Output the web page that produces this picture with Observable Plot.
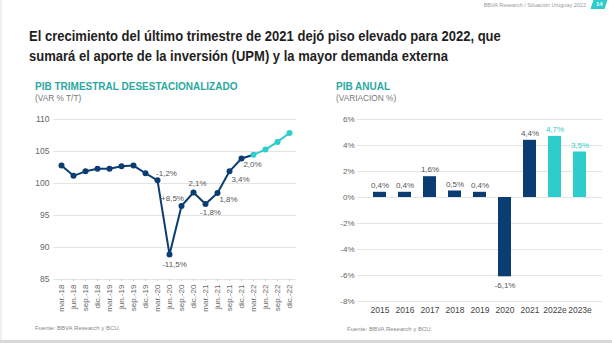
<!DOCTYPE html>
<html>
<head>
<meta charset="utf-8">
<script src="https://cdn.jsdelivr.net/npm/d3@7"></script>
<script src="https://cdn.jsdelivr.net/npm/@observablehq/plot@0.6"></script>
<style>
  html, body { margin: 0; padding: 0; background: #fff; }
  #slide { position: relative; width: 612px; height: 343px; overflow: hidden; background: #fff; font-family: "Liberation Sans", Arial, sans-serif; }
  .abs { position: absolute; white-space: nowrap; }
  #title { left: 29px; top: 26px; font-size: 15.5px; font-weight: bold; color: #1f1f1f; line-height: 20px; transform: scaleX(0.84); transform-origin: 0 0; }
  .sub1 { font-size: 10px; font-weight: bold; color: #2ba8a2; }
  .sub2 { font-size: 8.3px; color: #777; }
  .src { font-size: 6px; color: #888; }
  #hdr { right: 26px; top: 2px; font-size: 5.5px; color: #9a9a9a; }
  #pg { right: 6px; top: 0px; width: 14px; height: 9px; background: #2dcccd; transform: skewX(-18deg); color: #fff; font-size: 6px; font-weight: bold; text-align: center; line-height: 9px; }
  #bottomline { left: 0; top: 340px; width: 612px; height: 3px; background: #d9d9d9; }
  #leftline { left: 0; top: 0; width: 2px; height: 343px; background: #f0f0f0; }
</style>
</head>
<body>
<div id="slide">
  <div id="leftline" class="abs"></div>
  <div id="hdr" class="abs">BBVA Research / Situación Uruguay 2022</div>
  <div id="pg" class="abs"><span style="display:inline-block;transform:skewX(18deg)">14</span></div>
  <div id="title" class="abs">El crecimiento del último trimestre de 2021 dejó piso elevado para 2022, que<br>sumará el aporte de la inversión (UPM) y la mayor demanda externa</div>
  <div class="abs sub1" style="left:35px;top:81px">PIB TRIMESTRAL DESESTACIONALIZADO</div>
  <div class="abs sub2" style="left:35px;top:93px">(VAR % T/T)</div>
  <div class="abs sub1" style="left:336px;top:81px">PIB ANUAL</div>
  <div class="abs sub2" style="left:336px;top:93px">(VARIACION %)</div>
  <div id="left" class="abs" style="left:0;top:105px"></div>
  <div id="right" class="abs" style="left:310px;top:105px"></div>
  <div class="abs src" style="left:35px;top:325px">Fuente: BBVA Research y BCU.</div>
  <div class="abs src" style="left:347px;top:326px">Fuente: BBVA Research y BCU.</div>
  <div id="bottomline" class="abs"></div>
</div>
<script>
// ---- Data: quarterly seasonally adjusted GDP index ----
const quarters = ["mar.-18","jun.-18","sep.-18","dic.-18","mar.-19","jun.-19","sep.-19","dic.-19",
  "mar.-20","jun.-20","sep.-20","dic.-20","mar.-21","jun.-21","sep.-21","dic.-21",
  "mar.-22","jun.-22","sep.-22","dic.-22"];
const pibIndex = [102.8, 101.2, 101.9, 102.3, 102.3, 102.7, 102.8, 101.6,
  100.5, 88.9, 96.5, 98.6, 96.8, 98.5, 101.9, 103.9,
  104.5, 105.3, 106.5, 107.9];
const firstForecastQuarter = "mar.-22";
const qLabelQuarters = ["mar.-20","jun.-20","sep.-20","dic.-20","mar.-21","jun.-21","sep.-21","mar.-22"];
const qLabelTexts = ["-1,2%","-11,5%","+8,5%","2,1%","-1,8%","1,8%","3,4%","2,0%"];
const yTicksLeft = [85, 90, 95, 100, 105, 110];

// ---- Data: annual GDP growth ----
const years = ["2015","2016","2017","2018","2019","2020","2021","2022e","2023e"];
const growth = [0.4, 0.4, 1.6, 0.5, 0.4, -6.1, 4.4, 4.7, 3.5];
const growthLabels = ["0,4%","0,4%","1,6%","0,5%","0,4%","-6,1%","4,4%","4,7%","3,5%"];
const yTicksRight = [-8, -6, -4, -2, 0, 2, 4, 6];

const NAVY = "#0b3d72";
const CYAN = "#2dcccd";
const GRID = "#e4e4e4";
const TXT = "#666";

// ---- Left chart ----
const fIdx = quarters.indexOf(firstForecastQuarter);
const qData = quarters.map((q, i) => ({q, v: pibIndex[i], i}));
const hist = qData.filter(d => d.i <= fIdx);
const fcst = qData.filter(d => d.i >= fIdx);
const qLabels = qLabelQuarters.map((q, k) => ({q, v: pibIndex[quarters.indexOf(q)], t: qLabelTexts[k]}));
const offs = {
  "mar.-20": [9, -7], "jun.-20": [5, 10], "sep.-20": [-9, -7], "dic.-20": [4, -9],
  "mar.-21": [5, 8], "jun.-21": [11, 6], "sep.-21": [11, 8], "mar.-22": [-1, 10]
};

const left = Plot.plot({
  width: 305, height: 215,
  marginLeft: 53, marginRight: 9, marginTop: 14, marginBottom: 41,
  style: {fontFamily: "'Liberation Sans', Arial, sans-serif", background: "transparent"},
  x: {type: "point", domain: quarters, padding: 0.5, label: null},
  y: {domain: [85, 110], label: null},
  marks: [
    Plot.ruleY(yTicksLeft, {stroke: GRID, strokeWidth: 1}),
    Plot.axisY({ticks: yTicksLeft, tickSize: 0, tickPadding: 4, fontSize: 8.5, color: TXT, label: null}),
    Plot.axisX({tickRotate: -90, tickSize: 2, tickPadding: 3, fontSize: 8, color: TXT, stroke: "#ccc", label: null}),
    Plot.line(hist, {x: "q", y: "v", stroke: NAVY, strokeWidth: 2}),
    Plot.line(fcst, {x: "q", y: "v", stroke: CYAN, strokeWidth: 2}),
    Plot.dot(qData, {x: "q", y: "v", r: 3, fill: d => d.i >= fIdx ? CYAN : NAVY, stroke: "none"}),
    ...qLabels.map(d => Plot.text([d], {x: "q", y: "v", text: "t", dx: offs[d.q][0], dy: offs[d.q][1], fontSize: 8, fill: "#555"}))
  ]
});
document.getElementById("left").appendChild(left);

// ---- Right chart ----
const yData = years.map((y, i) => ({y, v: growth[i], t: growthLabels[i], est: y.endsWith("e")}));
const right = Plot.plot({
  width: 300, height: 215,
  marginLeft: 47, marginRight: 8, marginTop: 14, marginBottom: 19,
  style: {fontFamily: "'Liberation Sans', Arial, sans-serif", background: "transparent"},
  x: {type: "band", domain: years, padding: 0.5, label: null},
  y: {domain: [-8, 6], label: null},
  marks: [
    Plot.ruleY(yTicksRight, {stroke: GRID, strokeWidth: 1}),
    Plot.axisY({ticks: yTicksRight, tickFormat: d => d + "%", tickSize: 0, tickPadding: 3, fontSize: 8, color: TXT, label: null}),
    Plot.axisX({tickSize: 0, tickPadding: 5, fontSize: 8.5, color: "#444", label: null}),
    Plot.barY(yData, {x: "y", y: "v", fill: d => d.est ? CYAN : NAVY}),
    Plot.text(yData.filter(d => d.v >= 0), {x: "y", y: "v", text: "t", dy: -7, fontSize: 8, fill: d => d.est ? CYAN : "#555"}),
    Plot.text(yData.filter(d => d.v < 0), {x: "y", y: "v", text: "t", dy: 9, fontSize: 8, fill: "#555"})
  ]
});
document.getElementById("right").appendChild(right);
</script>
</body>
</html>
